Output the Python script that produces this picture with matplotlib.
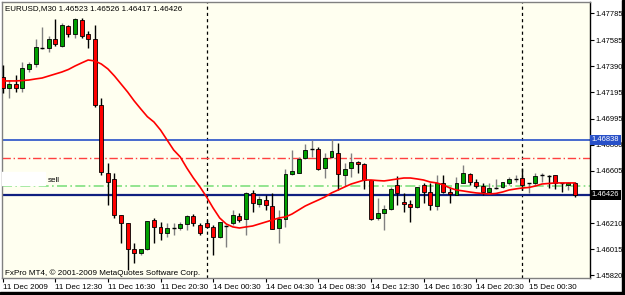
import numpy as np
import matplotlib.pyplot as plt
from matplotlib.patches import Rectangle

plt.rcParams['font.family'] = ['Liberation Sans', 'DejaVu Sans']

# EURUSD M30 bars
opens = [1.47311, 1.47224, 1.47256, 1.47224, 1.47369, 1.47404, 1.47528, 1.47528, 1.47596, 1.47543,
         1.47691, 1.47631, 1.47736, 1.47631, 1.47591, 1.47096, 1.46591, 1.46541, 1.46274, 1.46216,
         1.46019, 1.45986, 1.46021, 1.46236, 1.46186, 1.46141, 1.46174, 1.46174, 1.46206, 1.46268,
         1.46199, 1.46214, 1.46184, 1.46109, 1.46191, 1.46214, 1.46266, 1.46244, 1.46439, 1.46356,
         1.46386, 1.46341, 1.46176, 1.46244, 1.46581, 1.46589, 1.46701, 1.46769, 1.46769, 1.46626,
         1.46709, 1.46739, 1.46574, 1.46626, 1.46671, 1.46656, 1.46536, 1.46251, 1.46289, 1.46319,
         1.46499, 1.46371, 1.46356, 1.46334, 1.46499, 1.46446, 1.46341, 1.46514, 1.46446, 1.46424,
         1.46514, 1.46581, 1.46521, 1.46491, 1.46446, 1.46476, 1.46484, 1.46514, 1.46544, 1.46551,
         1.46514, 1.46514, 1.46574, 1.46566, 1.46574, 1.46514, 1.46499, 1.46514]
highs = [1.47399, 1.47286, 1.47324, 1.47423, 1.47423, 1.47591, 1.47681, 1.47616, 1.47741, 1.47711,
         1.47699, 1.47749, 1.47749, 1.47656, 1.47699, 1.47149, 1.46661, 1.46586, 1.46274, 1.46216,
         1.46061, 1.46016, 1.46229, 1.46249, 1.46223, 1.46211, 1.46211, 1.46219, 1.46274, 1.46281,
         1.46211, 1.46236, 1.46199, 1.46221, 1.46199, 1.46311, 1.46289, 1.46446, 1.46461, 1.46416,
         1.46424, 1.46439, 1.46311, 1.46619, 1.46761, 1.46709, 1.46806, 1.46836, 1.46784, 1.46739,
         1.46844, 1.46814, 1.46664, 1.46739, 1.46679, 1.46664, 1.46536, 1.46401, 1.46349, 1.46484,
         1.46566, 1.46439, 1.46386, 1.46484, 1.46514, 1.46514, 1.46574, 1.46574, 1.46484, 1.46559,
         1.46649, 1.46589, 1.46544, 1.46514, 1.46514, 1.46544, 1.46521, 1.46559, 1.46574, 1.46626,
         1.46516, 1.46589, 1.46589, 1.46574, 1.46574, 1.46516, 1.46521, 1.46521]
lows = [1.47186, 1.47149, 1.47198, 1.47198, 1.47348, 1.47386, 1.47516, 1.47498, 1.47543, 1.47536,
        1.47606, 1.47599, 1.47599, 1.47524, 1.47086, 1.46574, 1.46349, 1.46249, 1.46061, 1.45861,
        1.45911, 1.45974, 1.46011, 1.46061, 1.46086, 1.46111, 1.46124, 1.46161, 1.46161, 1.46191,
        1.46124, 1.46176, 1.45974, 1.46101, 1.46034, 1.46199, 1.46221, 1.46124, 1.46296, 1.46334,
        1.46311, 1.46169, 1.46064, 1.46184, 1.46574, 1.46589, 1.46694, 1.46709, 1.46611, 1.46551,
        1.46701, 1.46461, 1.46491, 1.46559, 1.46589, 1.46469, 1.46236, 1.46236, 1.46161, 1.46311,
        1.46349, 1.46296, 1.46221, 1.46326, 1.46364, 1.46311, 1.46311, 1.46439, 1.46364, 1.46424,
        1.46514, 1.46499, 1.46476, 1.46424, 1.46439, 1.46469, 1.46476, 1.46499, 1.46521, 1.46461,
        1.46439, 1.46499, 1.46521, 1.46476, 1.46469, 1.46446, 1.46461, 1.46409]
closes = [1.47224, 1.47256, 1.47224, 1.47374, 1.47406, 1.47536, 1.47530, 1.47591, 1.47554, 1.47699,
          1.47631, 1.47741, 1.47618, 1.47594, 1.47099, 1.46594, 1.46523, 1.46274, 1.46216, 1.46016,
          1.45986, 1.46016, 1.46229, 1.46181, 1.46141, 1.46174, 1.46176, 1.46204, 1.46266, 1.46211,
          1.46136, 1.46184, 1.46109, 1.46221, 1.46193, 1.46274, 1.46236, 1.46439, 1.46364, 1.46394,
          1.46349, 1.46169, 1.46244, 1.46581, 1.46604, 1.46694, 1.46761, 1.46771, 1.46619, 1.46701,
          1.46754, 1.46581, 1.46619, 1.46671, 1.46656, 1.46536, 1.46244, 1.46289, 1.46319, 1.46469,
          1.46439, 1.46356, 1.46334, 1.46484, 1.46446, 1.46349, 1.46514, 1.46446, 1.46431, 1.46514,
          1.46589, 1.46521, 1.46491, 1.46446, 1.46476, 1.46478, 1.46521, 1.46544, 1.46546, 1.46499,
          1.46516, 1.46566, 1.46576, 1.46564, 1.46514, 1.46512, 1.46514, 1.46426]

# moving average as drawn on the chart
ma = [1.47279, 1.47279, 1.47279, 1.47282, 1.47286, 1.47294, 1.47301, 1.47316, 1.47331, 1.47346,
      1.47365, 1.47391, 1.47414, 1.47436, 1.47429, 1.47406, 1.47369, 1.47316, 1.47256, 1.47196,
      1.47129, 1.47069, 1.47011, 1.46971, 1.46911, 1.46836, 1.46761, 1.46709, 1.46626, 1.46551,
      1.46484, 1.46409, 1.46326, 1.46251, 1.46206, 1.46184, 1.46176, 1.46184, 1.46191, 1.46206,
      1.46221, 1.46236, 1.46251, 1.46259, 1.46281, 1.46311, 1.46341, 1.46364, 1.46386, 1.46409,
      1.46439, 1.46461, 1.46484, 1.46506, 1.46521, 1.46536, 1.46536, 1.46532, 1.46529, 1.46536,
      1.46544, 1.46551, 1.46551, 1.46544, 1.46536, 1.46521, 1.46514, 1.46499, 1.46476, 1.46461,
      1.46454, 1.46446, 1.46439, 1.46435, 1.46431, 1.46435, 1.46446, 1.46461, 1.46469, 1.46476,
      1.46480, 1.46491, 1.46506, 1.46510, 1.46514, 1.46514, 1.46514, 1.46514]

time_labels = ['11 Dec 2009', '11 Dec 12:30', '11 Dec 16:30', '11 Dec 20:30', '14 Dec 00:30',
               '14 Dec 04:30', '14 Dec 08:30', '14 Dec 12:30', '14 Dec 16:30', '14 Dec 20:30',
               '15 Dec 00:30']
price_ticks = [1.47785, 1.47585, 1.47390, 1.47195, 1.46995, 1.46800, 1.46605, 1.46210, 1.46015, 1.45820]
day_breaks = [31, 79]
blue_level = 1.46838
red_level = 1.46701
green_level = 1.46491
bid_level = 1.46426

W, H = 625, 295
fig = plt.figure(figsize=(W / 100, H / 100), dpi=100)
fig.patch.set_facecolor('white')
ax = fig.add_axes([2 / W, 17 / H, 588 / W, 276 / H])
ax.set_facecolor('#fffff0')

n = len(opens)
x = np.arange(n)
o = np.array(opens)
c = np.array(closes)
up = c >= o

# wicks
ax.vlines(x[up], np.array(lows)[up], np.array(highs)[up], color='#808080', lw=1, zorder=3)
ax.vlines(x[~up], np.array(lows)[~up], np.array(highs)[~up], color='black', lw=1, zorder=3)

# bodies
body_w = 0.6
for i in range(n):
    lo, hi = min(o[i], c[i]), max(o[i], c[i])
    if hi - lo < 0.00003:
        ax.hlines(o[i], i - body_w / 2, i + body_w / 2, color='black', lw=1, zorder=4)
    else:
        col = '#00a000' if up[i] else '#ff0000'
        ax.bar(i, hi - lo, bottom=lo, width=body_w, color=col, edgecolor='black', lw=0.6, zorder=4)

ax.plot(x, ma, color='#ff0000', lw=1.2, zorder=5)

# level lines
ax.axhline(blue_level, color='#2850c8', lw=1.2, zorder=2)
ax.axhline(red_level, color='#ff4040', lw=1, ls=(0, (6, 2, 1, 2)), zorder=2)
ax.axhline(green_level, color='#80e080', lw=1.2, ls=(0, (6, 2, 1, 2)), zorder=2)
ax.axhline(bid_level, color='#102080', lw=1.6, zorder=2)
for d in day_breaks:
    ax.axvline(d, color='black', lw=0.9, ls=(0, (2.5, 2.5)), zorder=1)

# white box behind the "sell" label
ax.add_patch(Rectangle((-0.5, 1.46500), 6.9, 0.00095, color='white', zorder=6))
ax.text(6.8, 1.46535, 'sell', fontsize=5.8, color='black', va='center', zorder=7)

ax.set_xlim(-0.1, 89.3)
ax.set_ylim(1.45801, 1.47871)

ax.yaxis.tick_right()
ax.set_yticks(price_ticks)
ax.set_yticklabels(['%.5f' % p for p in price_ticks], fontsize=5.4)
ax.tick_params(axis='y', length=3, width=0.8, pad=1, color='black')

ax.set_xticks(np.arange(0, 81, 8))
ax.set_xticklabels(time_labels, fontsize=5.8)
for lab in ax.get_xticklabels():
    lab.set_horizontalalignment('left')
ax.tick_params(axis='x', length=3, width=0.8, pad=1.5, color='black')

for s in ax.spines.values():
    s.set_color('#808080')
    s.set_linewidth(1)
ax.spines['right'].set_color('black')

# highlighted price labels on the axis
ax.text(1.003, blue_level, '1.46838', transform=ax.get_yaxis_transform(), fontsize=5.4,
        color='white', va='center', ha='left', zorder=8,
        bbox=dict(boxstyle='square,pad=0.2', fc='#2850c8', ec='none'), clip_on=False)
ax.text(1.003, bid_level, '1.46426', transform=ax.get_yaxis_transform(), fontsize=5.4,
        color='white', va='center', ha='left', zorder=8,
        bbox=dict(boxstyle='square,pad=0.2', fc='black', ec='none'), clip_on=False)

fig.text(5 / W, 1 - 9 / H, 'EURUSD,M30 1.46523 1.46526 1.46417 1.46426', fontsize=5.8,
         va='center', ha='left')
fig.text(5 / W, 1 - 273 / H, 'FxPro MT4, \u00a9 2001-2009 MetaQuotes Software Corp.', fontsize=5.9,
         va='center', ha='left')

# dark frame strips at right and bottom edges
fig.patches.append(Rectangle((622 / W, 0), 3 / W, 1, transform=fig.transFigure, color='black'))
fig.patches.append(Rectangle((0, 0), 1, 3 / H, transform=fig.transFigure, color='black'))

fig.savefig('out.png', dpi=100)
